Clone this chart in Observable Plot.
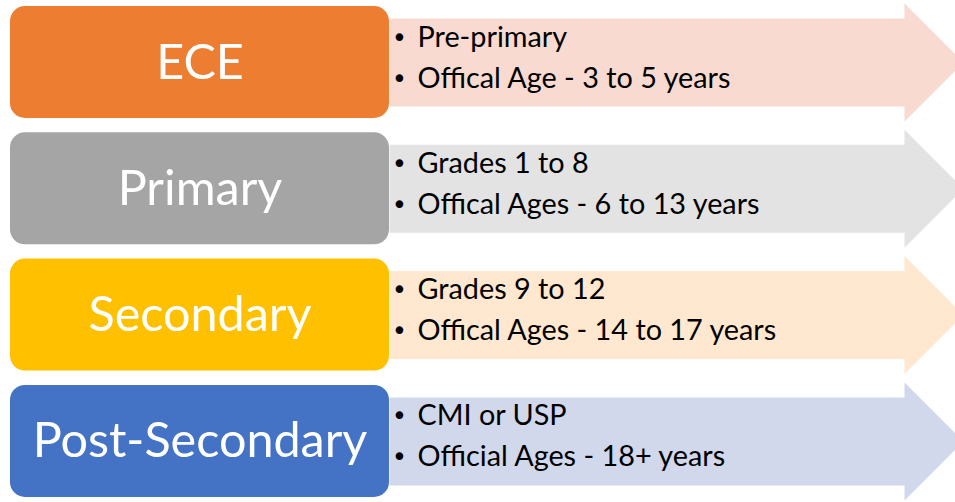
<!DOCTYPE html>
<html>
<head>
<meta charset="utf-8">
<script src="https://cdn.jsdelivr.net/npm/d3@7"></script>
<script src="https://cdn.jsdelivr.net/npm/@observablehq/plot@0.6"></script>
<style>
  html, body { margin: 0; padding: 0; background: #fff; overflow: hidden; }
</style>
</head>
<body>
<div id="chart"></div>
<script>
const stages = ["ECE", "Primary", "Secondary", "Post-Secondary"];
const line1 = ["Pre-primary", "Grades 1 to 8", "Grades 9 to 12", "CMI or USP"];
const line2 = ["Offical Age - 3 to 5 years", "Offical Ages - 6 to 13 years", "Offical Ages - 14 to 17 years", "Official Ages - 18+ years"];
const boxColors = ["#ED7D31", "#A5A5A5", "#FFC000", "#4472C4"];
const arrowColors = ["#F8DAD1", "#E3E3E3", "#FFE8CF", "#D2D8EB"];

const W = 955, H = 502;
const row0 = 62, pitch = 126.3, boxHalf = 56, bodyHalf = 44, headHalf = 59;
const boxX1 = 10, boxX2 = 389, bodyX1 = 389, headX = 904;

const rows = stages.map((s, i) => ({
  i, stage: s, l1: line1[i], l2: line2[i],
  box: boxColors[i], arrow: arrowColors[i], cy: row0 + i * pitch
}));

const arrowPts = rows.flatMap(r => {
  const tipX = headX + headHalf;
  return [
    [bodyX1, r.cy - bodyHalf], [headX, r.cy - bodyHalf], [headX, r.cy - headHalf],
    [tipX, r.cy], [headX, r.cy + headHalf], [headX, r.cy + bodyHalf], [bodyX1, r.cy + bodyHalf]
  ].map(([x, y]) => ({row: r.i, x, y, fill: r.arrow}));
});

const font = "Lato, 'Open Sans', sans-serif";

const chart = Plot.plot({
  width: W, height: H,
  margin: 0,
  x: {domain: [0, W], range: [0, W], axis: null},
  y: {domain: [0, H], range: [0, H], axis: null},
  color: {type: "identity"},
  style: {fontFamily: font, background: "#fff"},
  marks: [
    Plot.line(arrowPts, {x: "x", y: "y", z: "row", fill: "fill", stroke: null, clip: true, curve: "linear"}),
    Plot.rect(rows, {x1: () => boxX1, x2: () => boxX2, y1: d => d.cy - boxHalf, y2: d => d.cy + boxHalf, fill: "box", rx: 15}),
    Plot.text(rows, {x: () => (boxX1 + boxX2) / 2, y: d => d.cy + 16, text: "stage", fill: "#fff", fontSize: 48.5, textAnchor: "middle", lineAnchor: "bottom", fontFamily: font}),
    Plot.text(rows, {x: () => 399, y: d => d.cy - 16, text: () => "•", fill: "#000", fontSize: 26, textAnchor: "middle", lineAnchor: "bottom", fontFamily: "'DejaVu Sans', sans-serif"}),
    Plot.text(rows, {x: () => 399, y: d => d.cy + 25, text: () => "•", fill: "#000", fontSize: 26, textAnchor: "middle", lineAnchor: "bottom", fontFamily: "'DejaVu Sans', sans-serif"}),
    Plot.text(rows, {x: () => 417, y: d => d.cy - 16, text: "l1", fill: "#000", fontSize: 28.8, textAnchor: "start", lineAnchor: "bottom", fontFamily: font}),
    Plot.text(rows, {x: () => 417, y: d => d.cy + 25, text: "l2", fill: "#000", fontSize: 28.8, textAnchor: "start", lineAnchor: "bottom", fontFamily: font})
  ]
});
document.getElementById("chart").appendChild(chart);
</script>
</body>
</html>
